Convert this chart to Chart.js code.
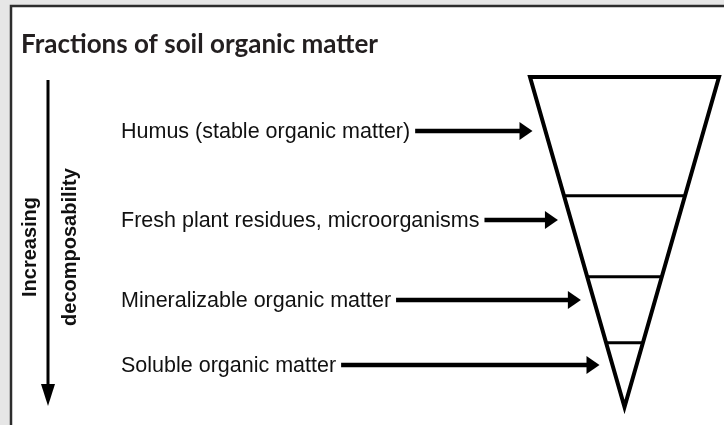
<!DOCTYPE html>
<html>
<head>
<meta charset="utf-8">
<script src="https://cdn.jsdelivr.net/npm/chart.js@4/dist/chart.umd.min.js"></script>
<style>
  html, body { margin: 0; padding: 0; background: #e6e6e6; }
  #wrap { width: 724px; height: 425px; }
</style>
</head>
<body>
<div id="wrap"><canvas id="fractionChart" width="724" height="425"></canvas></div>
<script>
// fractions, top of the funnel (stable) down to the tip (soluble)
const fractions = [
    "Humus (stable organic matter)",
    "Fresh plant residues, microorganisms",
    "Mineralizable organic matter",
    "Soluble organic matter",
];
// depth of the boundaries between fractions (0 = top of funnel, 100 = tip)
const boundaries = [0, 36, 60.5, 80.5, 100];
// depth each label arrow points at
const arrowLevels = [16.4, 43.3, 67.6, 87.3];
// half width of the funnel at its top
const halfWidthTop = 50;

const chartTitle = "Fractions of soil organic matter";
const sideLabels = ["Increasing", "decomposability"];

// half width of the funnel at a given depth
function halfWidth(depth) {
    return halfWidthTop * (1 - depth / 100);
}

// outline of the funnel, started mid top edge so every corner is joined
let outline = [
    { x: 0, y: boundaries[0] },
    { x: halfWidth(boundaries[0]), y: boundaries[0] },
    { x: 0, y: boundaries[boundaries.length - 1] },
    { x: -halfWidth(boundaries[0]), y: boundaries[0] },
    { x: 0, y: boundaries[0] },
];

let datasets = [{
    label: "funnel",
    data: outline,
    borderColor: "#000",
    borderWidth: 4,
    borderJoinStyle: "miter",
}];

// inner boundary lines
boundaries.slice(1, -1).forEach((b) => {
    datasets.push({
        label: "boundary " + b,
        data: [{ x: -halfWidth(b), y: b }, { x: halfWidth(b), y: b }],
        borderColor: "#000",
        borderWidth: 3,
    });
});

datasets.forEach((d) => {
    d.showLine = true;
    d.pointRadius = 0;
    d.tension = 0;
    d.clip = false;
});

const labelFont = '21.5px "Liberation Sans", Arial, sans-serif';
const titleFont = 'bold 26px Lato, "Open Sans", sans-serif';
const sideFont = 'bold 20px "Liberation Sans", Arial, sans-serif';

function arrowRight(ctx, x0, x1, y) {
    ctx.lineWidth = 4.5;
    ctx.beginPath();
    ctx.moveTo(x0, y);
    ctx.lineTo(x1 - 10, y);
    ctx.stroke();
    ctx.beginPath();
    ctx.moveTo(x1 - 13, y - 9);
    ctx.lineTo(x1, y);
    ctx.lineTo(x1 - 13, y + 9);
    ctx.closePath();
    ctx.fill();
}

const diagramPlugin = {
    id: "diagram",
    beforeDraw(chart) {
        let ctx = chart.ctx;
        ctx.save();
        // grey page, white panel with dark top/left border
        ctx.fillStyle = "#e6e6e6";
        ctx.fillRect(0, 0, chart.width, chart.height);
        ctx.fillStyle = "#fff";
        ctx.fillRect(11, 6, chart.width - 11, chart.height - 6);
        ctx.strokeStyle = "#2d2d2d";
        ctx.lineWidth = 2.5;
        ctx.beginPath();
        ctx.moveTo(11, chart.height);
        ctx.lineTo(11, 6);
        ctx.lineTo(chart.width, 6);
        ctx.stroke();

        // title
        ctx.fillStyle = "#231f20";
        ctx.font = titleFont;
        ctx.textBaseline = "alphabetic";
        ctx.fillText(chartTitle, 21, 53);
        ctx.restore();
    },
    afterDatasetsDraw(chart) {
        let ctx = chart.ctx;
        let xs = chart.scales.x;
        let ys = chart.scales.y;
        ctx.save();
        ctx.fillStyle = "#000";
        ctx.strokeStyle = "#000";

        // labels with arrows pointing at the funnel
        ctx.font = labelFont;
        ctx.textBaseline = "middle";
        fractions.forEach((name, i) => {
            let y = ys.getPixelForValue(arrowLevels[i]);
            let edge = xs.getPixelForValue(-halfWidth(arrowLevels[i]));
            ctx.fillStyle = "#111";
            ctx.fillText(name, 121, y + 1);
            let end = 121 + ctx.measureText(name).width;
            ctx.fillStyle = "#000";
            arrowRight(ctx, end + 5, edge - 13, y);
        });

        // vertical arrow on the left
        let top = ys.getPixelForValue(boundaries[0]) + 3;
        let tip = ys.getPixelForValue(boundaries[boundaries.length - 1]) - 1;
        ctx.lineWidth = 3;
        ctx.beginPath();
        ctx.moveTo(48, top);
        ctx.lineTo(48, tip - 18);
        ctx.stroke();
        ctx.beginPath();
        ctx.moveTo(41, tip - 22);
        ctx.lineTo(55, tip - 22);
        ctx.lineTo(48, tip);
        ctx.closePath();
        ctx.fill();

        // rotated side labels
        ctx.font = sideFont;
        ctx.textAlign = "center";
        ctx.textBaseline = "middle";
        ctx.fillStyle = "#111";
        [30, 70].forEach((x, i) => {
            ctx.save();
            ctx.translate(x, 247);
            ctx.rotate(-Math.PI / 2);
            ctx.fillText(sideLabels[i], 0, 0);
            ctx.restore();
        });
        ctx.restore();
    },
};

new Chart(document.getElementById("fractionChart"), {
    type: "scatter",
    data: { datasets: datasets },
    options: {
        responsive: false,
        animation: false,
        layout: { padding: { left: 530, right: 5, top: 77, bottom: 18 } },
        scales: {
            x: { type: "linear", min: -halfWidthTop, max: halfWidthTop, display: false },
            y: { type: "linear", min: 0, max: 100, reverse: true, display: false },
        },
        plugins: {
            legend: { display: false },
            tooltip: { enabled: false },
        },
    },
    plugins: [diagramPlugin],
});
</script>
</body>
</html>
